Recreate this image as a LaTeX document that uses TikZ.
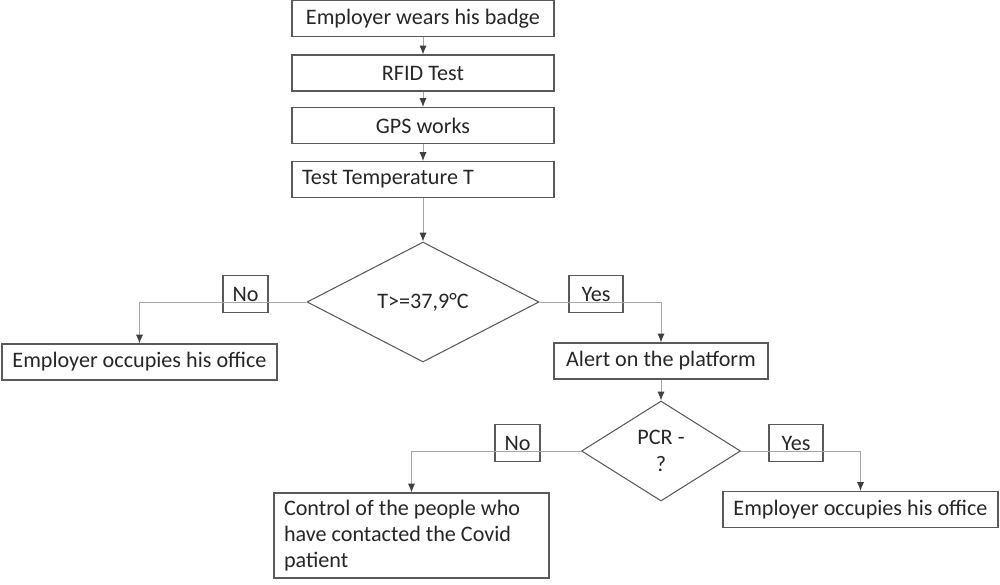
\documentclass[tikz,border=0pt]{standalone}
\usepackage{fontspec}
\setmainfont{Carlito}
\usepackage{tikz}
\usetikzlibrary{shapes.geometric,arrows.meta,positioning}

\definecolor{boxline}{HTML}{595959}
\definecolor{wire}{HTML}{A6A6A6}

\tikzset{
  stepbox/.style={draw=boxline, line width=0.6pt, minimum width=5.24cm, minimum height=0.72cm, inner sep=0pt},
  leftbox/.style={stepbox, text width=4.84cm, inner xsep=0.2cm, align=flush left},
  test/.style={draw=boxline, line width=0.6pt, diamond, inner sep=0pt, align=center},
  answer/.style={draw=boxline, line width=0.6pt, minimum height=0.74cm, inner sep=0pt},
  wire/.style={draw=wire, line width=0.5pt, -{Latex[length=5pt,width=4pt,color=black!75]}}
}

\begin{document}
\begin{tikzpicture}[node distance=1cm,on grid,font=\fontsize{12.6}{15}\selectfont,text=black!85]
\useasboundingbox (0,0) rectangle (20,-11.68);
				\node[stepbox] (badge) at (8.46,-0.37) {Employer wears his badge};
				\node[stepbox] (rfid) [below=1.09cm of badge] {RFID Test};
				\node[stepbox] (gps) [below=1.05cm of rfid] {GPS works};
				\node[leftbox] (temp) [below=1.08cm of gps] {Test Temperature T};
				\node[test, minimum width=4.64cm, minimum height=2.4cm] (fever) [below=2.45cm of temp] {T>=37,9°C};
				\node[stepbox, minimum width=5.5cm] (office_1) [below left=1.2cm and 5.67cm of fever] {Employer occupies his office};
				\node[stepbox, minimum width=4.28cm] (alert) [below right=1.18cm and 4.76cm of fever] {Alert on the platform};
				\node[test, minimum width=3.18cm, minimum height=2cm] (pcr) [below=1.8cm of alert] {PCR -\\?};
				\node[leftbox, text width=5.1cm, minimum height=1.7cm] (contact) [below left=1.69cm and 4.99cm of pcr] {Control of the people who have contacted the Covid patient};
				\node[stepbox, minimum width=5.5cm] (office_2) [below right=1.17cm and 3.99cm of pcr] {Employer occupies his office};
				\node[answer, minimum width=0.9cm] (no_1) [above left=0.16cm and 3.55cm of fever] {No};
				\node[answer, minimum width=1.08cm] (yes_1) [above right=0.16cm and 3.46cm of fever] {Yes};
				\node[answer, minimum width=0.9cm] (no_2) [above left=0.16cm and 2.87cm of pcr] {No};
				\node[answer, minimum width=1.08cm] (yes_2) [above right=0.16cm and 2.70cm of pcr] {Yes};
				\path[wire]
				(badge) edge (rfid)
				(rfid) edge (gps)
				(gps) edge (temp)
				(temp) edge (fever)
				(alert) edge (pcr);
				\draw[wire] (fever.west) -| (office_1);
				\draw[wire] (fever.east) -| (alert);
				\draw[wire] (pcr.west) -| (contact);
				\draw[wire] (pcr.east) -| (office_2);
			\end{tikzpicture}
\end{document}
